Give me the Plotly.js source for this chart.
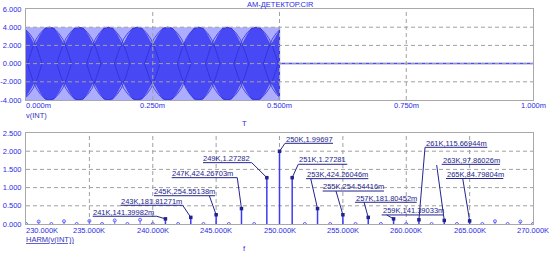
<!DOCTYPE html>
<html><head><meta charset="utf-8">
<script src="https://cdn.plot.ly/plotly-3.0.1.min.js"></script>
<style>html,body{margin:0;padding:0;background:#fff}#chart{width:552px;height:256px}</style>
</head><body><div id="chart"></div>
<script>
// ---------------- data ----------------
const chartTitle = 'AM-ДЕТЕКТОР.CIR';
const topTraceName = 'v(INT)';
const topAxisVar = 'T';
const botTraceName = 'HARM(v(INT))';
const botAxisVar = 'f';

const timeTickVals = [0, 0.25, 0.5, 0.75, 1.0];
const timeTickText = ['0.000m', '0.250m', '0.500m', '0.750m', '1.000m'];
const voltTickVals = [-4, -2, 0, 2, 4, 6];
const voltTickText = ['-4.000', '-2.000', '0.000', '2.000', '4.000', '6.000'];

const burstTime = [0, 0.5];
const burstHigh = [4, 4];
const burstLow = [-4, -4];
// moire lobes of the dense carrier (ms)
const lobeCenterTime = [-0.0118, 0.0463, 0.1043, 0.1624, 0.2195, 0.2795, 0.3406, 0.3967, 0.4537, 0.512];
// lobe edge heights read at fractions of the spacing between two lobe centres
const lobeEdgeFrac = [0, 0.15, 0.3, 0.5, 0.7, 0.85];
const lobeEdgeVolt = [4, 3.9, 3.2, 2.0, 3.2, 3.9];
// a single lobe outline (fraction of spacing from its centre, volts)
const lobeArcFrac = [-0.75, -0.6, -0.45, -0.3, -0.15, 0, 0.15, 0.3, 0.45, 0.6, 0.75];
const lobeArcVolt = [0, 1.5, 2.7, 3.4, 3.85, 4, 3.85, 3.4, 2.7, 1.5, 0];
const idleTime = [0.5, 1.0];
const idleVolt = [0, 0];

const freqTickVals = [230, 235, 240, 245, 250, 255, 260, 265, 270];
const freqTickText = ['230.000K', '235.000K', '240.000K', '245.000K', '250.000K', '255.000K', '260.000K', '265.000K', '270.000K'];
const harmTickVals = [0, 0.5, 1, 1.5, 2, 2.5];
const harmTickText = ['0.000', '0.500', '1.000', '1.500', '2.000', '2.500'];

const harmFreq = [230, 231, 232, 233, 234, 235, 236, 237, 238, 239, 240,
                  241, 242, 243, 244, 245, 246, 247, 248, 249, 250,
                  251, 252, 253, 254, 255, 256, 257, 258, 259, 260,
                  261, 262, 263, 264, 265, 266, 267, 268, 269, 270];
const harmAmp = [0, 0.067, 0, 0.075, 0, 0.085, 0, 0.098, 0, 0.116, 0,
                 0.14139982, 0, 0.18181271, 0, 0.25455138, 0, 0.42426703, 0, 1.27282, 1.99697,
                 1.27281, 0, 0.42426046, 0, 0.25454416, 0, 0.18180452, 0, 0.14139033, 0,
                 0.11566944, 0, 0.09786026, 0, 0.08479804, 0, 0.075, 0, 0.067, 0];
const labeledFreq = [241, 243, 245, 247, 249, 250, 251, 253, 255, 257, 259, 261, 263, 265];

// ---------------- layout of the cursor labels (pixel offsets from the point, screen-down positive) ----------------
const labelLayout = {
  241: {tx: -72.7, ty: -6.6,  ux0: -72.7, ux1: -8.7,  uy: -2.6,  lx: -8.7,  ly: -2.6},
  243: {tx: -70.1, ty: -15.7, ux0: -70.1, ux1: -8.1,  uy: -12.1, lx: -8.1,  ly: -12.1},
  245: {tx: -62.1, ty: -23,   ux0: -62.1, ux1: -1.1,  uy: -19,   lx: -6.8,  ly: -19},
  247: {tx: -69.8, ty: -34.6, ux0: -69.8, ux1: -4.2,  uy: -30.9, lx: -4.2,  ly: -30.9},
  249: {tx: -63.8, ty: -18.7, ux0: -63.8, ux1: -15.1, uy: -15,   lx: -15.1, ly: -15},
  250: {tx: 6.5,   ty: -12.3, ux0: 5.5,   ux1: 53.5,  uy: -8,    lx: 5.5,   ly: -8},
  251: {tx: 7.1,   ty: -17.7, ux0: 6.1,   ux1: 55.1,  uy: -13.4, lx: 6.1,   ly: -13.4},
  253: {tx: -10.8, ty: -34.3, ux0: -11.5, ux1: 50.8,  uy: -29.9, lx: -6.8,  ly: -29.9},
  255: {tx: -19.6, ty: -28,   ux0: -20.2, ux1: 41.1,  uy: -23.7, lx: -6.9,  ly: -23.7},
  257: {tx: -12.2, ty: -19.1, ux0: -13.2, ux1: 48.5,  uy: -15.1, lx: -4.2,  ly: -15.1},
  259: {tx: -10.9, ty: -7.9,  ux0: -11.9, ux1: 50.4,  uy: -3.9,  lx: -6.9,  ly: -3.9},
  261: {tx: 7.1,   ty: -76.5, ux0: 6.1,   ux1: 68.4,  uy: -72.5, lx: 6.1,   ly: -72.5},
  263: {tx: -1.6,  ty: -60.4, ux0: -2.6,  ux1: 55.7,  uy: -56.1, lx: -7.6,  ly: -55.4},
  265: {tx: -22.9, ty: -46.8, ux0: -23.6, ux1: 33.7,  uy: -42.4, lx: -6.9,  ly: -42.4}
};

// ---------------- styles ----------------
const W = 552, H = 256;
const FONT = 'Liberation Sans, Arial, sans-serif';
const FS = 7.5;
const tickColor = '#2b2be6';
const labelColor = '#24248c';
const frameColor = '#a8a8a8';
const gridColor = '#a0a0a0';
const px = v => v / W, py = v => 1 - v / H;

// ---------------- build ----------------
function fmtAmp(v) { return v >= 1 ? v.toFixed(5) : (v * 1000).toFixed(5) + 'm'; }

const t0 = burstTime[0], t1 = burstTime[1];
// scalloped outline of the dark lobe region
const lobeT = [], lobeV = [];
for (let i = 0; i < lobeCenterTime.length - 1; i++) {
  const c = lobeCenterTime[i], h = lobeCenterTime[i + 1] - c;
  lobeEdgeFrac.forEach((f, k) => { lobeT.push(c + h * f); lobeV.push(lobeEdgeVolt[k]); });
}
lobeT.push(lobeCenterTime[lobeCenterTime.length - 1]); lobeV.push(lobeEdgeVolt[0]);
function interp(T, V, t) {
  for (let i = 0; i < T.length - 1; i++) {
    if (t >= T[i] && t <= T[i + 1]) return V[i] + (t - T[i]) / (T[i + 1] - T[i]) * (V[i + 1] - V[i]);
  }
  return V[V.length - 1];
}
function clip(T, V) {
  const oT = [t0], oV = [interp(T, V, t0)];
  T.forEach((t, i) => { if (t > t0 && t < t1) { oT.push(t); oV.push(V[i]); } });
  oT.push(t1); oV.push(interp(T, V, t1));
  return [oT, oV];
}
const [upT, upV] = clip(lobeT, lobeV);
const polyT = upT.concat(upT.slice().reverse());
const polyV = upV.concat(upV.slice().reverse().map(v => -v));

const traces = [];
traces.push({x: burstTime, y: burstLow, xaxis: 'x', yaxis: 'y', mode: 'lines', line: {width: 0, color: '#a9a9ff'}, hoverinfo: 'skip'});
traces.push({x: burstTime, y: burstHigh, xaxis: 'x', yaxis: 'y', mode: 'lines', fill: 'tonexty', fillcolor: '#b2b2ff',
  fillpattern: {shape: '|', size: 2, solidity: 0.5, fgcolor: '#8a8aff', bgcolor: '#d0d0ff'}, line: {width: 0, color: '#a9a9ff'}, hoverinfo: 'skip'});
traces.push({x: polyT, y: polyV, xaxis: 'x', yaxis: 'y', mode: 'lines', fill: 'toself', fillcolor: '#4848f4', line: {width: 0.6, color: '#3838ea'}, hoverinfo: 'skip'});
// lobe outlines crossing inside the dark region
lobeCenterTime.forEach((c, i) => {
  const h = (i < lobeCenterTime.length - 1 ? lobeCenterTime[i + 1] : c + (c - lobeCenterTime[i - 1])) - c;
  const aT = lobeArcFrac.map(f => c + f * h);
  const [cT, cV] = clip(aT, lobeArcVolt);
  if (cT.length < 3 && aT[0] > t1) return;
  const okT = [], okV = [];
  cT.forEach((t, k) => { if (t >= aT[0] && t <= aT[aT.length - 1]) { okT.push(t); okV.push(cV[k]); } });
  if (okT.length < 2) return;
  traces.push({x: okT, y: okV, xaxis: 'x', yaxis: 'y', mode: 'lines', line: {width: 0.8, color: '#3030d8'}, hoverinfo: 'skip'});
  traces.push({x: okT, y: okV.map(v => -v), xaxis: 'x', yaxis: 'y', mode: 'lines', line: {width: 0.8, color: '#3030d8'}, hoverinfo: 'skip'});
});
traces.push({x: [t1, t1], y: [burstLow[1], burstHigh[1]], xaxis: 'x', yaxis: 'y', mode: 'lines', line: {width: 1.2, color: '#3a3ae6'}, hoverinfo: 'skip'});
traces.push({x: idleTime, y: idleVolt, xaxis: 'x', yaxis: 'y', mode: 'lines', line: {width: 1.5, color: '#4a4aff'}, hoverinfo: 'skip'});

// harmonic stems
const bigX = [], bigY = [], smallX = [], smallY = [];
const openX = [], openY = [], dotX = [], dotY = [];
harmFreq.forEach((f, i) => {
  const a = harmAmp[i];
  const lab = labeledFreq.includes(f);
  if (a > 0) {
    (lab ? bigX : smallX).push(f, f, null);
    (lab ? bigY : smallY).push(0, a, null);
  }
  if (lab) { dotX.push(f); dotY.push(a); } else { openX.push(f); openY.push(a); }
});
traces.push({x: smallX, y: smallY, xaxis: 'x2', yaxis: 'y2', mode: 'lines', line: {width: 1, color: '#7373ff'}, hoverinfo: 'skip'});
traces.push({x: bigX, y: bigY, xaxis: 'x2', yaxis: 'y2', mode: 'lines', line: {width: 1.5, color: '#3c3cf4'}, hoverinfo: 'skip'});
traces.push({x: openX, y: openY, xaxis: 'x2', yaxis: 'y2', mode: 'markers', marker: {symbol: 'circle-open', size: 3, color: '#6060ff', line: {width: 1, color: '#6060ff'}}, hoverinfo: 'skip'});
traces.push({x: dotX, y: dotY, xaxis: 'x2', yaxis: 'y2', mode: 'markers', marker: {symbol: 'square', size: 3.5, color: '#22228a'}, hoverinfo: 'skip'});

const shapes = [];
const annotations = [];
const gridLine = {color: gridColor, width: 1, dash: '4px,3px'};
timeTickVals.slice(1, -1).forEach(v => shapes.push({type: 'line', xref: 'x', yref: 'y domain', x0: v, x1: v, y0: 0, y1: 1, line: gridLine, layer: 'above'}));
voltTickVals.slice(1, -1).forEach(v => shapes.push({type: 'line', xref: 'x domain', yref: 'y', x0: 0, x1: 1, y0: v, y1: v, line: gridLine, layer: 'above'}));
freqTickVals.slice(1, -1).forEach(v => shapes.push({type: 'line', xref: 'x2', yref: 'y2 domain', x0: v, x1: v, y0: 0, y1: 1, line: gridLine, layer: 'below'}));
harmTickVals.slice(1, -1).forEach(v => shapes.push({type: 'line', xref: 'x2 domain', yref: 'y2', x0: 0, x1: 1, y0: v, y1: v, line: gridLine, layer: 'below'}));

labeledFreq.forEach(f => {
  const a = harmAmp[harmFreq.indexOf(f)];
  const L = labelLayout[f];
  const base = {type: 'line', xref: 'x2', yref: 'y2', xsizemode: 'pixel', ysizemode: 'pixel', xanchor: f, yanchor: a, line: {color: labelColor, width: 1}, layer: 'above'};
  shapes.push(Object.assign({}, base, {x0: L.ux0, x1: L.ux1, y0: -L.uy, y1: -L.uy}));
  shapes.push(Object.assign({}, base, {x0: L.lx, x1: 0, y0: -L.ly, y1: 0}));
  annotations.push({xref: 'x2', yref: 'y2', x: f, y: a, xanchor: 'left', yanchor: 'middle', xshift: L.tx, yshift: -L.ty,
    text: f + 'K,' + fmtAmp(a), showarrow: false, borderpad: 0, borderwidth: 0, font: {family: FONT, size: FS, color: labelColor}});
});

timeTickVals.forEach((v, i) => annotations.push({xref: 'x', yref: 'paper', x: v, y: py(105.7), xanchor: i === 0 ? 'left' : 'center', yanchor: 'middle',
  text: timeTickText[i], showarrow: false, borderpad: 0, borderwidth: 0, font: {family: FONT, size: FS, color: tickColor}}));
freqTickVals.forEach((v, i) => annotations.push({xref: 'x2', yref: 'paper', x: v, y: py(230), xanchor: i === 0 ? 'left' : 'center', yanchor: 'middle',
  text: freqTickText[i], showarrow: false, borderpad: 0, borderwidth: 0, font: {family: FONT, size: FS, color: tickColor}}));

const txt = (t, x, y, anchor, color) => ({xref: 'paper', yref: 'paper', x: px(x), y: py(y), xanchor: anchor, yanchor: 'middle', text: t, showarrow: false, borderpad: 0, borderwidth: 0, font: {family: FONT, size: FS, color: color}});
annotations.push(txt(chartTitle, 280, 4.5, 'center', tickColor));
annotations.push(txt(topTraceName, 26, 115, 'left', '#3030c0'));
annotations.push(txt(topAxisVar, 244, 123, 'center', tickColor));
annotations.push(txt('<u>' + botTraceName + '</u>', 26, 239, 'left', '#3030c0'));
annotations.push(txt(botAxisVar, 244, 248, 'center', tickColor));

const axBase = {showgrid: false, zeroline: false, showline: true, mirror: true, linecolor: frameColor, linewidth: 1, ticks: '', fixedrange: true};
const layout = {
  width: W, height: H, margin: {l: 0, r: 0, t: 0, b: 0}, paper_bgcolor: '#fff', plot_bgcolor: '#fff', showlegend: false,
  xaxis: Object.assign({}, axBase, {domain: [px(26), px(533)], range: [0, 1], anchor: 'y', showticklabels: false}),
  yaxis: Object.assign({}, axBase, {domain: [py(100), py(9)], range: [-4, 6], anchor: 'x', tickvals: voltTickVals, ticktext: voltTickText,
    tickfont: {family: FONT, size: FS, color: tickColor}, ticklabelstandoff: 2}),
  xaxis2: Object.assign({}, axBase, {domain: [px(26), px(533)], range: [230, 270], anchor: 'y2', showticklabels: false}),
  yaxis2: Object.assign({}, axBase, {domain: [py(224), py(133)], range: [0, 2.5], anchor: 'x2', tickvals: harmTickVals, ticktext: harmTickText,
    tickfont: {family: FONT, size: FS, color: tickColor}, ticklabelstandoff: 2}),
  shapes: shapes, annotations: annotations
};
Plotly.newPlot('chart', traces, layout, {staticPlot: true, displayModeBar: false});
</script></body></html>
